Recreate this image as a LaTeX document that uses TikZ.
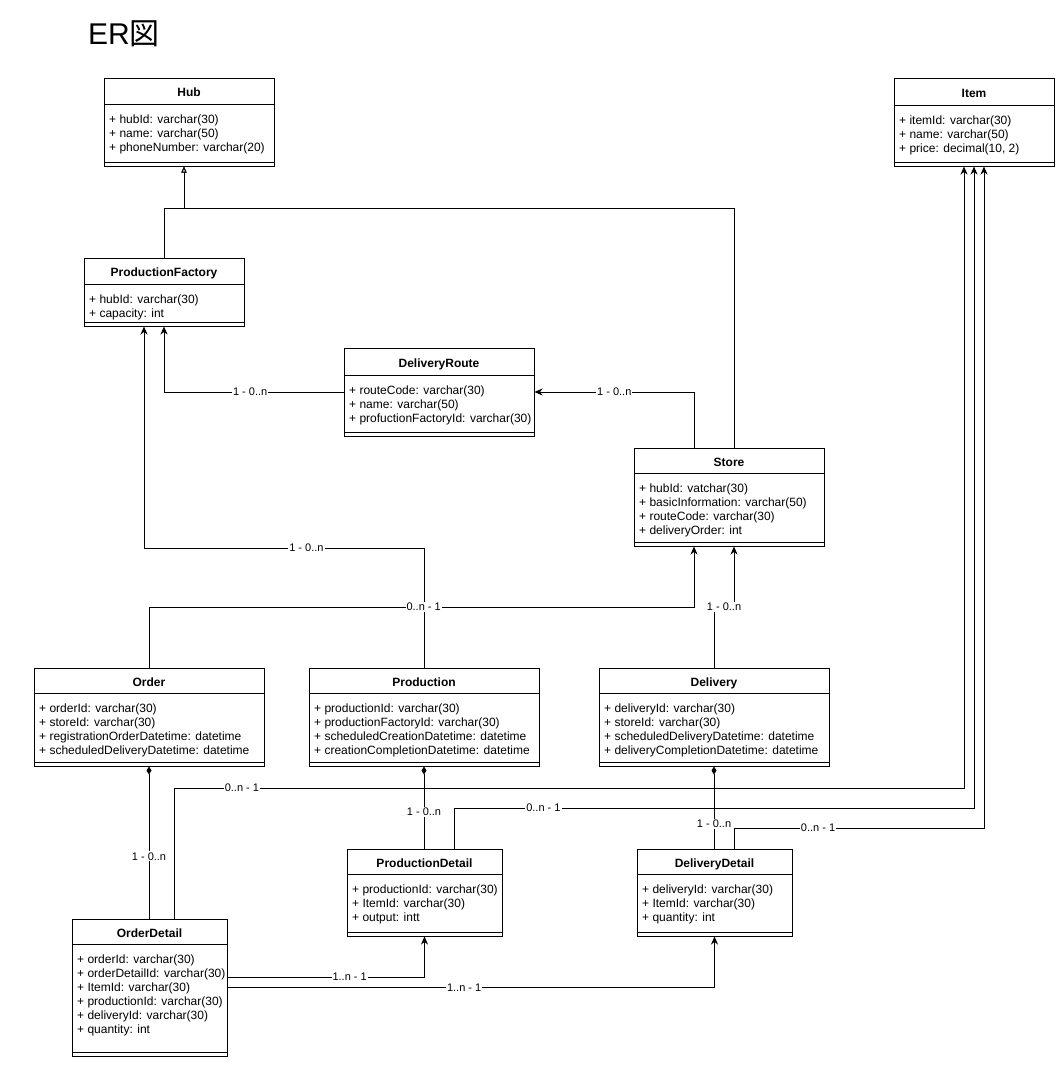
\documentclass[tikz,border=0pt]{standalone}
\usepackage{fontspec}
\setmainfont{Liberation Sans}
\newfontfamily\cjk{Noto Sans CJK JP}
\usetikzlibrary{arrows.meta,fit,calc}

\tikzset{
 clsbox/.style={draw, line width=1pt, inner sep=0pt, fill=white},
 clsline/.style={line width=1pt},
 hdr/.style={font=\fontsize{12}{14}\selectfont\bfseries, inner sep=0pt, text height=8.6pt, text depth=0pt},
 attr/.style={anchor=west, font=\fontsize{12}{14}\selectfont, inner sep=0pt, text height=9pt, text depth=2.5pt},
 conn/.style={line width=1pt},
 arr/.style={conn, -{Stealth[length=8pt,width=7pt,inset=2.5pt]}},
 inh/.style={conn, -{Triangle[open,length=6pt,width=5pt,fill=white]}},
 comp/.style={conn, {Diamond[length=8pt,width=5pt]}-},
 lbl/.style={fill=white, font=\fontsize{11}{13}\selectfont, inner sep=1pt, text height=7.9pt, text depth=0pt}
}

% #1 name, #2 left, #3 top, #4 right, #5 header bottom, #6 separator, #7 bottom, #8 title, #9 attributes
\newcommand\umlclass[9]{%
 \node[clsbox, fit={(#2,#3)(#4,#7)}] (#1) {};
 \draw[clsline] (#2,#5) -- (#4,#5);
 \draw[clsline] (#2,#6) -- (#4,#6);
 \node[hdr] (#1t) at ({(#2+#4)/2},{(#3+#5)/2+1.5}) {#8};
 \foreach \a [count=\i] in {#9} {\node[attr] (#1a\i) at ({#2+5},{#5+16+14*(\i-1)}) {\a};}
}

\begin{document}
\begin{tikzpicture}[x=1pt,y=-1pt]
\fill[white] (0,0) rectangle (1055,1080);
\useasboundingbox (0,0) rectangle (1055,1080);

\node[anchor=west, inner sep=0pt, font=\fontsize{30}{36}\selectfont, text height=21.5pt, text depth=0pt] (title) at (88,34) {ER{\cjk 図}};

\umlclass{hub}{104}{78}{274}{104}{162}{166}{Hub}{{+ hubId: varchar(30)},{+ name: varchar(50)},{+ phoneNumber: varchar(20)}}
\umlclass{item}{894}{78}{1054}{105}{162}{166}{Item}{{+ itemId: varchar(30)},{+ name: varchar(50)},{+ price: decimal(10, 2)}}
\umlclass{pf}{84}{258}{244}{284}{322}{326}{ProductionFactory}{{+ hubId: varchar(30)},{+ capacity: int}}
\umlclass{dr}{344}{348}{534}{375}{432}{436}{DeliveryRoute}{{+ routeCode: varchar(30)},{+ name: varchar(50)},{+ profuctionFactoryId: varchar(30)}}
\umlclass{store}{634}{448}{824}{473}{542}{546}{Store}{{+ hubId: vatchar(30)},{+ basicInformation: varchar(50)},{+ routeCode: varchar(30)},{+ deliveryOrder: int}}
\umlclass{order}{34}{668}{264}{693}{762}{766}{Order}{{+ orderId: varchar(30)},{+ storeId: varchar(30)},{+ registrationOrderDatetime: datetime},{+ scheduledDeliveryDatetime: datetime}}
\umlclass{prod}{309}{668}{539}{693}{762}{766}{Production}{{+ productionId: varchar(30)},{+ productionFactoryId: varchar(30)},{+ scheduledCreationDatetime: datetime},{+ creationCompletionDatetime: datetime}}
\umlclass{deliv}{599}{668}{829}{693}{762}{766}{Delivery}{{+ deliveryId: varchar(30)},{+ storeId: varchar(30)},{+ scheduledDeliveryDatetime: datetime},{+ deliveryCompletionDatetime: datetime}}
\umlclass{pd}{347}{849}{502}{874}{932}{936}{ProductionDetail}{{+ productionId: varchar(30)},{+ ItemId: varchar(30)},{+ output: intt}}
\umlclass{dd}{637}{849}{792}{874}{932}{936}{DeliveryDetail}{{+ deliveryId: varchar(30)},{+ ItemId: varchar(30)},{+ quantity: int}}
\umlclass{od}{72}{919}{227}{944}{1052}{1056}{OrderDetail}{{+ orderId: varchar(30)},{+ orderDetailId: varchar(30)},{+ ItemId: varchar(30)},{+ productionId: varchar(30)},{+ deliveryId: varchar(30)},{+ quantity: int}}

% levels and offset anchors
\coordinate (lvA) at (0,208);
\coordinate (lvB) at (0,548);
\coordinate (lvC) at (0,607);
\coordinate (lvD) at (0,788);
\coordinate (lvE) at (0,808);
\coordinate (lvF) at (0,828);
\coordinate (hubIn) at ([xshift=-5pt]hub.south);
\coordinate (pfIn1) at ([xshift=-20pt]pf.south);
\coordinate (stTopL) at ([xshift=-35pt]store.north);
\coordinate (stTopR) at ([xshift=5pt]store.north);
\coordinate (stBotL) at ([xshift=-35pt]store.south);
\coordinate (stBotR) at ([xshift=5pt]store.south);
\coordinate (itemA) at ([xshift=-10pt]item.south);
\coordinate (itemC) at ([xshift=10pt]item.south);
\coordinate (odTop2) at ([xshift=24.5pt]od.north);
\coordinate (pdTop2) at ([xshift=29.5pt]pd.north);
\coordinate (ddTop2) at ([xshift=19.5pt]dd.north);
\coordinate (odR1) at ([yshift=10.5pt]od.east);

% connectors
\draw[inh] (pf.north) -- (pf.north |- lvA) -| (hubIn);
\draw[inh] (stTopR) -- (stTopR |- lvA) -| (hubIn);
\draw[arr] (dr.west) -| node[lbl,pos=0.26]{1 - 0..n} (pf.south);
\draw[arr] (stTopL) |- node[lbl,pos=0.75]{1 - 0..n} (dr.east);
\draw[arr] (prod.north) -- (prod.north |- lvB) -| node[lbl,pos=0.21]{1 - 0..n} (pfIn1);
\draw[arr] (order.north) -- (order.north |- lvC) -| node[lbl,pos=0.252]{0..n - 1} (stBotL);
\draw[arr] (deliv.north) -- (deliv.north |- lvC) -- node[lbl]{1 - 0..n} (stBotR |- lvC) -- (stBotR);
\draw[comp] (order.south) -- node[lbl,pos=0.59]{1 - 0..n} (order.south |- od.north);
\draw[comp] (prod.south) -- node[lbl,pos=0.55]{1 - 0..n} (prod.south |- pd.north);
\draw[comp] (deliv.south) -- node[lbl,pos=0.70]{1 - 0..n} (deliv.south |- dd.north);
\draw[arr] (odTop2) -- (odTop2 |- lvD) -| node[lbl,pos=0.043]{0..n - 1} (itemA);
\draw[arr] (pdTop2) -- (pdTop2 |- lvE) -| node[lbl,pos=0.086]{0..n - 1} (item.south);
\draw[arr] (ddTop2) -- (ddTop2 |- lvF) -| node[lbl,pos=0.168]{0..n - 1} (itemC);
\draw[arr] (odR1) -| node[lbl,pos=0.31]{1..n - 1} (pd.south);
\draw[arr] (od.east) -| node[lbl,pos=0.243]{1..n - 1} (dd.south);
\end{tikzpicture}
\end{document}
